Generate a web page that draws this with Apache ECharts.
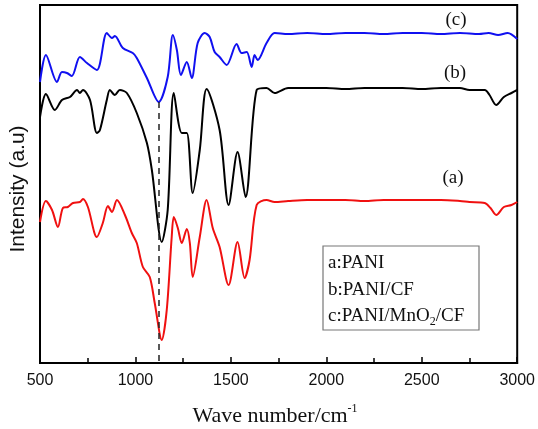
<!DOCTYPE html>
<html>
<head>
<meta charset="utf-8">
<script src="https://cdn.jsdelivr.net/npm/echarts@6/dist/echarts.min.js"></script>
<style>
  html, body { margin: 0; padding: 0; background: #fff; }
  #spectra { width: 538px; height: 429px; }
</style>
</head>
<body>
<div id="spectra"></div>
<script>
// wave numbers (cm-1) and intensities (arbitrary units)
var waveC = [500, 531, 589, 615, 641, 667, 709, 746, 798, 850, 877, 892, 934, 986, 1007, 1060, 1122, 1169, 1196, 1217, 1238, 1269, 1295, 1326, 1363, 1389, 1415, 1441, 1478, 1530, 1556, 1583, 1609, 1624, 1640, 1687, 1729, 1800, 1900, 2000, 2100, 2200, 2300, 2400, 2500, 2600, 2700, 2800, 2850, 2900, 2950, 3000];
var sampleC = [281, 308, 281, 291, 290, 287, 306, 300, 293, 330, 325, 327, 315, 310, 305, 285, 261, 286, 328, 313, 288, 301, 285, 320, 330, 326, 311, 306, 298, 319, 310, 311, 296, 308, 303, 320, 330, 329, 330, 329, 330, 330, 329, 330, 330, 329, 330, 329, 330, 328, 330, 324];

var waveB = [500, 531, 578, 615, 657, 694, 709, 725, 762, 798, 814, 850, 866, 892, 918, 955, 1007, 1060, 1086, 1138, 1169, 1201, 1243, 1269, 1300, 1337, 1373, 1441, 1488, 1535, 1577, 1635, 1687, 1729, 1800, 1900, 2000, 2100, 2200, 2300, 2400, 2500, 2600, 2700, 2750, 2830, 2855, 2890, 2930, 2970, 3000];
var sampleB = [246, 269, 253, 263, 266, 273, 270, 273, 263, 230, 233, 263, 273, 268, 273, 270, 250, 220, 193, 121, 153, 270, 230, 230, 170, 213, 274, 233, 158, 211, 166, 273, 275, 270, 275, 275, 275, 274, 275, 275, 275, 274, 275, 275, 273, 273, 268, 258, 266, 270, 273];

var waveA = [500, 531, 563, 594, 620, 646, 673, 709, 725, 751, 798, 829, 856, 877, 903, 945, 981, 1007, 1039, 1075, 1101, 1138, 1164, 1190, 1201, 1222, 1243, 1269, 1285, 1300, 1337, 1373, 1405, 1441, 1488, 1535, 1572, 1598, 1635, 1687, 1729, 1800, 1900, 2000, 2100, 2200, 2300, 2400, 2500, 2600, 2700, 2750, 2830, 2860, 2890, 2930, 2970, 3000];
var sampleA = [141, 162, 153, 136, 155, 156, 160, 161, 164, 156, 126, 140, 157, 151, 163, 148, 130, 120, 96, 86, 60, 23, 53, 126, 146, 135, 120, 134, 120, 86, 126, 163, 135, 116, 78, 121, 85, 103, 158, 163, 161, 162, 163, 163, 163, 162, 163, 163, 163, 163, 162, 161, 160, 155, 148, 156, 158, 161];

var xTicks = [500, 1000, 1500, 2000, 2500, 3000];
var guideWave = 1122;   // dashed marker line
var guideTop = 261;

var legendLines = ['a:PANI', 'b:PANI/CF', 'c:PANI/MnO{s|2}/CF'];

function pairs(xs, ys) {
    var out = [];
    for (var i = 0; i < xs.length; i++) out.push([xs[i], ys[i]]);
    return out;
}

var chart = echarts.init(document.getElementById('spectra'));
var serif = '"Liberation Serif", "Times New Roman", serif';
var sans = '"Liberation Sans", Arial, sans-serif';

var option = {
    animation: false,
    backgroundColor: '#fff',
    grid: { left: 40, right: 20, top: 5, bottom: 66, show: true, borderColor: '#000', borderWidth: 2 },
    xAxis: {
        type: 'value',
        min: xTicks[0],
        max: xTicks[xTicks.length - 1],
        interval: 500,
        axisLine: { lineStyle: { color: '#000', width: 2 } },
        axisTick: { inside: true, length: 6, lineStyle: { color: '#000', width: 1.5 } },
        minorTick: { show: true, splitNumber: 2, length: 5, lineStyle: { color: '#000', width: 1.5 } },
        splitLine: { show: false },
        axisLabel: {
            margin: 10, fontFamily: sans, fontSize: 16, color: '#111',
            formatter: function (v) { return String(v); }
        }
    },
    yAxis: {
        type: 'value',
        min: 0,
        max: 358,
        axisLine: { lineStyle: { color: '#000', width: 2 } },
        axisTick: { show: false },
        axisLabel: { show: false },
        splitLine: { show: false }
    },
    series: [
        {
            name: 'c', type: 'line', data: pairs(waveC, sampleC), showSymbol: false, smooth: 0.3,
            lineStyle: { color: '#1010f0', width: 2 }
        },
        {
            name: 'b', type: 'line', data: pairs(waveB, sampleB), showSymbol: false, smooth: 0.3,
            lineStyle: { color: '#000', width: 2 }
        },
        {
            name: 'a', type: 'line', data: pairs(waveA, sampleA), showSymbol: false, smooth: 0.3,
            lineStyle: { color: '#f01010', width: 2 },
            markLine: {
                silent: true, symbol: 'none', label: { show: false },
                lineStyle: { color: '#222', type: [6, 5], width: 1.5 },
                data: [[{ coord: [guideWave, guideTop] }, { coord: [guideWave, 0] }]]
            }
        }
    ],
    graphic: [
        { type: 'text', x: 456, y: 20, style: { text: '(c)', font: '19px ' + serif, fill: '#111', align: 'center', verticalAlign: 'middle' } },
        { type: 'text', x: 455, y: 73, style: { text: '(b)', font: '19px ' + serif, fill: '#111', align: 'center', verticalAlign: 'middle' } },
        { type: 'text', x: 453, y: 178, style: { text: '(a)', font: '19px ' + serif, fill: '#111', align: 'center', verticalAlign: 'middle' } },
        {
            type: 'rect', shape: { x: 323, y: 246, width: 156, height: 84 },
            style: { fill: '#fff', stroke: '#777', lineWidth: 1.2 }
        },
        {
            type: 'text', x: 328, y: 250,
            style: {
                text: legendLines.join('\n'),
                font: '19px ' + serif, fill: '#111', lineHeight: 26.5,
                rich: { s: { fontSize: 12, fontFamily: serif, padding: [12, 0, 0, 0], lineHeight: 26.5 } }
            }
        },
        {
            type: 'text', x: 18, y: 189, rotation: Math.PI / 2,
            style: { text: 'Intensity (a.u)', font: '21px ' + sans, fill: '#111', align: 'center', verticalAlign: 'middle' }
        },
        {
            type: 'text', x: 275, y: 416,
            style: {
                text: 'Wave number/cm{p|-1}', font: '22px ' + serif, fill: '#111', align: 'center', verticalAlign: 'middle',
                rich: { p: { fontSize: 12, fontFamily: serif, padding: [0, 0, 14, 0] } }
            }
        }
    ]
};
chart.setOption(option);
</script>
</body>
</html>
